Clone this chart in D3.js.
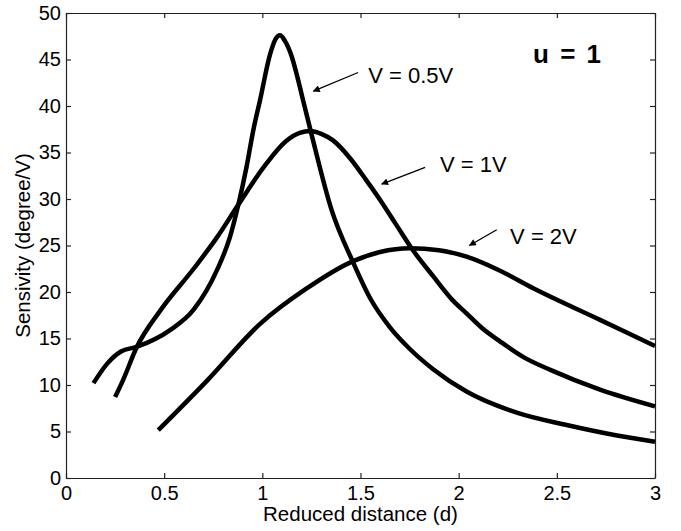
<!DOCTYPE html>
<html>
  <head>
    <script src="https://d3js.org/d3.v7.min.js"></script>
    <style>
      body { margin: 0; background: #fff; }
      text { font-family: "Liberation Sans", Arial, Helvetica, sans-serif; fill: #000; }
    </style>
  </head>
  <body>
    <script>

      // curve V = 0.5V
      var d_05 = [0.14, 0.21, 0.28, 0.36, 0.53, 0.65, 0.77, 0.835, 0.878, 0.92, 0.954, 0.988, 1.04, 1.065, 1.09, 1.115, 1.15, 1.18, 1.21, 1.25, 1.353, 1.46, 1.55, 1.65, 1.75, 1.87, 2.04, 2.30, 2.55, 2.80, 3.0]
      var s_05 = [10.2, 12.3, 13.6, 14.1, 15.9, 18.1, 22.4, 25.9, 29.4, 33.5, 37.4, 40.6, 45.6, 47.1, 47.6, 47.0, 45.3, 43.0, 40.4, 37.0, 28.8, 23.3, 19.3, 16.2, 13.9, 11.7, 9.3, 7.0, 5.7, 4.6, 3.9]

      // curve V = 1V
      var d_1 = [0.25, 0.29, 0.36, 0.48, 0.65, 0.77, 0.878, 1.01, 1.12, 1.19, 1.245, 1.30, 1.36, 1.45, 1.53, 1.60, 1.68, 1.76, 1.87, 1.97, 2.04, 2.12, 2.21, 2.33, 2.47, 2.72, 3.0]
      var s_1 = [8.7, 10.5, 14.05, 18.0, 22.5, 25.9, 29.4, 33.5, 36.2, 37.1, 37.3, 37.0, 36.3, 34.3, 32.0, 29.9, 27.3, 24.7, 21.7, 19.1, 17.7, 16.1, 14.7, 13.0, 11.6, 9.5, 7.7]

      // curve V = 2V
      var d_2 = [0.47, 0.72, 0.99, 1.22, 1.46, 1.60, 1.75, 1.90, 2.04, 2.20, 2.38, 2.72, 3.0]
      var s_2 = [5.15, 10.5, 16.6, 20.3, 23.3, 24.3, 24.7, 24.5, 23.8, 22.4, 20.4, 17.0, 14.2]

      // ticks
      var x_ticks = [0, 0.5, 1, 1.5, 2, 2.5, 3]
      var y_ticks = [0, 5, 10, 15, 20, 25, 30, 35, 40, 45, 50]

      // annotations: label, text pos, arrow start, arrow end (data units)
      var labels = ["V = 0.5V", "V = 1V", "V = 2V"]
      var label_pos = [[1.539, 42.5], [1.905, 32.9], [2.262, 25.2]]
      var arrow_from = [[1.488, 43.6], [1.829, 33.4], [2.194, 26.7]]
      var arrow_to = [[1.260, 41.6], [1.608, 31.6], [2.055, 25.0]]

      var w_svg = 681
      var h_svg = 531
      var m_left = 66, m_right = 655, m_top = 13, m_bottom = 478

      var svg = d3.select("body")
        .append("svg")
        .attr("width", w_svg)
        .attr("height", h_svg)

      var x_scale = d3.scaleLinear().domain([0, 3]).range([m_left, m_right])
      var y_scale = d3.scaleLinear().domain([0, 50]).range([m_bottom, m_top])

      // arrow marker
      svg.append("defs").append("marker")
        .attr("id", "head")
        .attr("viewBox", "0 0 10 10")
        .attr("refX", 9).attr("refY", 5)
        .attr("markerWidth", 9).attr("markerHeight", 7)
        .attr("markerUnits", "userSpaceOnUse")
        .attr("orient", "auto")
        .append("path")
        .attr("d", "M0,0 L10,5 L0,10 z")
        .attr("fill", "#000")

      // axes, ticks pointing inward on all four sides
      var fmt = function(d) { return String(d) }

      svg.append("g")
        .attr("transform", "translate(0," + m_bottom + ")")
        .call(d3.axisBottom(x_scale).tickValues(x_ticks).tickFormat(fmt)
          .tickSizeInner(-5).tickSizeOuter(0).tickPadding(8))
        .call(style_axis)

      svg.append("g")
        .attr("transform", "translate(0," + m_top + ")")
        .call(d3.axisTop(x_scale).tickValues(x_ticks).tickFormat("")
          .tickSizeInner(-5).tickSizeOuter(0))
        .call(style_axis)

      svg.append("g")
        .attr("transform", "translate(" + m_left + ",0)")
        .call(d3.axisLeft(y_scale).tickValues(y_ticks).tickFormat(fmt)
          .tickSizeInner(-5).tickSizeOuter(0).tickPadding(5))
        .call(style_axis)

      svg.append("g")
        .attr("transform", "translate(" + m_right + ",0)")
        .call(d3.axisRight(y_scale).tickValues(y_ticks).tickFormat("")
          .tickSizeInner(-5).tickSizeOuter(0))
        .call(style_axis)

      function style_axis(g) {
        g.select(".domain").attr("stroke", "#222").attr("stroke-width", 1.2)
        g.selectAll(".tick line").attr("stroke", "#222").attr("stroke-width", 1.2)
        g.selectAll(".tick text")
          .style("font-family", "'Liberation Sans', Arial, sans-serif")
          .style("font-size", "20px")
          .attr("fill", "#000")
      }

      // curves
      var line = d3.line()
        .x(function(p) { return x_scale(p[0]) })
        .y(function(p) { return y_scale(p[1]) })
        .curve(d3.curveMonotoneX)

      var series = [d3.zip(d_05, s_05), d3.zip(d_1, s_1), d3.zip(d_2, s_2)]

      svg.selectAll(".curve")
        .data(series)
        .enter()
        .append("path")
        .attr("class", "curve")
        .attr("d", line)
        .attr("fill", "none")
        .attr("stroke", "#000")
        .attr("stroke-width", 4.5)

      // arrows and labels
      for (var i = 0; i < labels.length; i++) {
        svg.append("line")
          .attr("x1", x_scale(arrow_from[i][0]))
          .attr("y1", y_scale(arrow_from[i][1]))
          .attr("x2", x_scale(arrow_to[i][0]))
          .attr("y2", y_scale(arrow_to[i][1]))
          .attr("stroke", "#000")
          .attr("stroke-width", 1.3)
          .attr("marker-end", "url(#head)")

        svg.append("text")
          .attr("x", x_scale(label_pos[i][0]))
          .attr("y", y_scale(label_pos[i][1]))
          .style("font-size", "22px")
          .text(labels[i])
      }

      svg.append("text")
        .attr("x", x_scale(2.379))
        .attr("y", y_scale(44.6))
        .style("font-size", "26px")
        .style("font-weight", "bold")
        .style("word-spacing", "4px")
        .text("u = 1")

      // axis titles
      svg.append("text")
        .attr("x", (m_left + m_right) / 2)
        .attr("y", 521)
        .attr("text-anchor", "middle")
        .style("font-size", "20.5px")
        .text("Reduced distance (d)")

      svg.append("text")
        .attr("transform", "translate(30," + (m_top + m_bottom) / 2 + ") rotate(-90)")
        .attr("text-anchor", "middle")
        .style("font-size", "20.5px")
        .text("Sensivity (degree/V)")

    </script>
  </body>
</html>
